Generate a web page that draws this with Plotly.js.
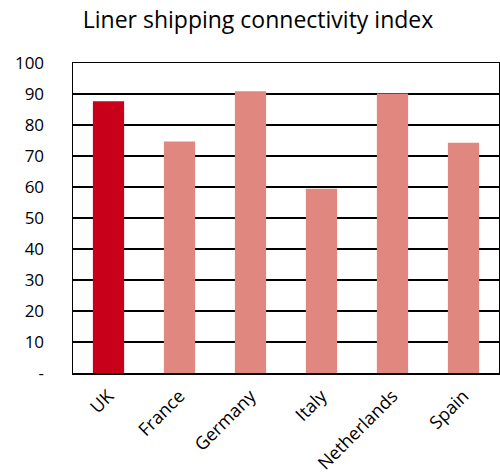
<!DOCTYPE html>
<html><head><meta charset="utf-8">
<script src="https://cdn.plot.ly/plotly-3.0.1.min.js"></script>
<style>html,body{margin:0;padding:0;background:#fff}#c{width:500px;height:473px}</style>
</head><body><div id="c"></div>
<script>
const categories = ["UK", "France", "Germany", "Italy", "Netherlands", "Spain"];
const values = [87.7, 74.7, 90.9, 59.4, 90.2, 74.3];
const barColors = ["#C8001A", "#E0877F", "#E0877F", "#E0877F", "#E0877F", "#E0877F"];
const yTickVals = [0, 10, 20, 30, 40, 50, 60, 70, 80, 90, 100];
const yTickText = ["-", "10", "20", "30", "40", "50", "60", "70", "80", "90", "100"];
const FONT = "Segoe UI, Open Sans, Noto Sans, sans-serif";

Plotly.newPlot("c", [{
  type: "bar", x: categories, y: values,
  marker: {color: barColors, line: {width: 0}},
  hoverinfo: "x+y"
}], {
  width: 500, height: 473,
  margin: {l: 73, r: 1, t: 63, b: 100},
  paper_bgcolor: "#fff", plot_bgcolor: "#fff",
  bargap: 0.56,
  showlegend: false,
  title: {text: "Liner shipping connectivity index", x: 0.516, xref: "container", xanchor: "center", y: 0.957, yref: "container", yanchor: "middle",
    font: {family: FONT, size: 23, color: "#000"}},
  font: {family: FONT, color: "#000"},
  xaxis: {
    type: "category", tickangle: -45, tickfont: {size: 18, color: "#000"},
    showline: true, linecolor: "#000", linewidth: 1.5, mirror: true,
    showgrid: false, ticks: "", ticklabelstandoff: 4, fixedrange: true
  },
  yaxis: {
    range: [0, 100], tickvals: yTickVals, ticktext: yTickText,
    tickfont: {size: 17, color: "#000"},
    showline: true, linecolor: "#000", linewidth: 1.5, mirror: true,
    showgrid: true, gridcolor: "#000", gridwidth: 1.5,
    zeroline: false, ticks: "", ticklabelstandoff: 24, fixedrange: true
  }
}, {displayModeBar: false, staticPlot: true});
</script></body></html>
